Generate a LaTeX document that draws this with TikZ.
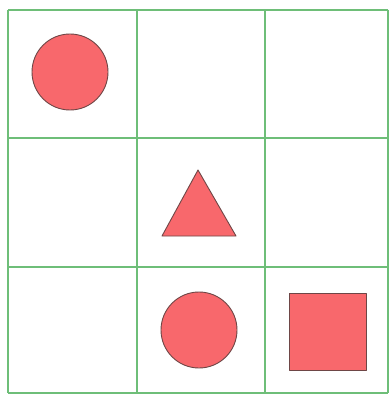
\documentclass[tikz,border=0pt]{standalone}
\definecolor{gridgreen}{RGB}{110,190,120}
\definecolor{shapefill}{RGB}{248,104,108}
\definecolor{shapeline}{RGB}{110,70,70}
\begin{document}
\begin{tikzpicture}[x=1pt,y=-1pt,
  gridline/.style={draw=gridgreen,line width=2.6pt},
  redshape/.style={fill=shapefill,draw=shapeline,line width=0.9pt,line join=round}]
\useasboundingbox[fill=white] (0,0) rectangle (390,395);
% grid
\foreach \x in {8,137,265,388} \draw[gridline] (\x,10) -- (\x,393);
\foreach \y in {10,138,267,393} \draw[gridline] (8,\y) -- (388,\y);
% shapes
\draw[redshape] (70,72) circle[radius=38];
\draw[redshape] (198,170) -- (236,236) -- (162,236) -- cycle;
\draw[redshape] (199,330) circle[radius=38];
\draw[redshape] (289,293) rectangle (366,370);
\end{tikzpicture}
\end{document}
